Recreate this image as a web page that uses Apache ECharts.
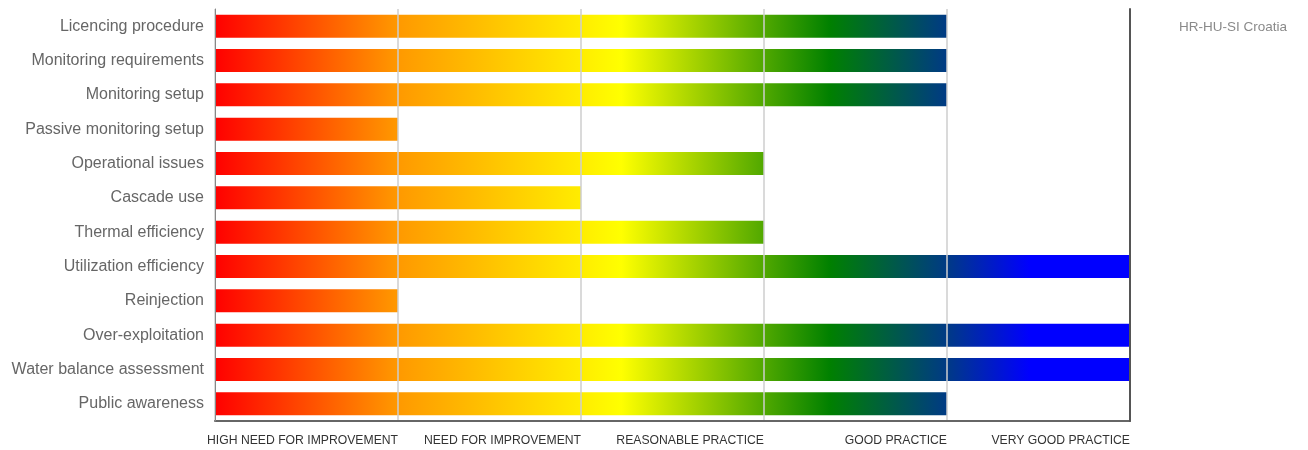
<!DOCTYPE html>
<html>
<head>
<meta charset="utf-8">
<script src="https://cdn.jsdelivr.net/npm/echarts@6/dist/echarts.min.js"></script>
<style>html,body{margin:0;padding:0;background:#fff}#c{width:1308px;height:450px}</style>
</head>
<body>
<div id="c"></div>
<script>
const categories = ['Licencing procedure','Monitoring requirements','Monitoring setup','Passive monitoring setup','Operational issues','Cascade use','Thermal efficiency','Utilization efficiency','Reinjection','Over-exploitation','Water balance assessment','Public awareness'];
const values = [4,4,4,1,3,2,3,5,1,5,5,4];
const tickLabels = ['', 'HIGH NEED FOR IMPROVEMENT','NEED FOR IMPROVEMENT','REASONABLE PRACTICE','GOOD PRACTICE','VERY GOOD PRACTICE'];
const seriesName = 'HR-HU-SI Croatia';

const chart = echarts.init(document.getElementById('c'));
const font = 'Arial, "Liberation Sans", sans-serif';
function build(grad) {
  return {
    animation: false,
    legend: {
      data: [seriesName], right: 16, top: 15, itemWidth: 0, itemHeight: 0, icon: 'rect',
      textStyle: { color: '#8a8a8a', fontSize: 13.5, fontFamily: font }
    },
    grid: { left: 215, right: 178, top: 9, bottom: 29 },
    xAxis: {
      type: 'value', min: 0, max: 5, interval: 1, z: 5,
      axisLine: { show: true, lineStyle: { color: '#666', width: 2 } },
      axisTick: { show: false },
      splitLine: { show: true, lineStyle: { color: 'rgba(205,205,205,0.75)', width: 2 } },
      axisLabel: {
        formatter: v => tickLabels[v] || '', align: 'right', margin: 14,
        color: '#333', fontSize: 12.2, fontFamily: font
      }
    },
    yAxis: [{
      type: 'category', data: categories, inverse: true, z: 6,
      axisLine: { show: true, lineStyle: { color: '#888', width: 1 } },
      axisTick: { show: false },
      axisLabel: { color: '#666', fontSize: 16, fontFamily: font, margin: 11 }
    }, {
      type: 'category', data: categories, inverse: true, position: 'right', z: 6,
      axisLine: { show: true, lineStyle: { color: '#555', width: 2 } },
      axisTick: { show: false }, axisLabel: { show: false }
    }],
    series: [{
      name: seriesName, type: 'bar', data: values, barWidth: '67%',
      itemStyle: { color: grad }
    }]
  };
}
chart.setOption(build('#f00'));
const x0 = chart.convertToPixel({ xAxisIndex: 0 }, 0);
const x1 = chart.convertToPixel({ xAxisIndex: 0 }, 5);
const grad = new echarts.graphic.LinearGradient(x0, 0, x1, 0, [
  { offset: 0, color: '#ff0000' },
  { offset: 0.2, color: '#ff9900' },
  { offset: 0.444, color: '#ffff00' },
  { offset: 0.672, color: '#008000' },
  { offset: 0.8, color: '#003a85' },
  { offset: 0.89, color: '#0000ff' },
  { offset: 1, color: '#0000ff' }
], true);
chart.setOption(build(grad));
</script>
</body>
</html>
